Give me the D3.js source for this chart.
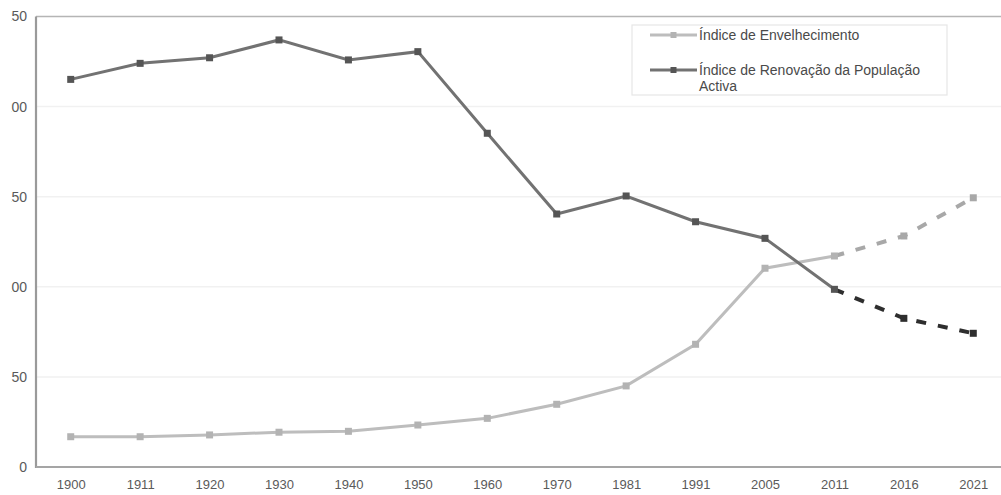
<!DOCTYPE html>
<html><head><meta charset="utf-8">
<script src="https://cdn.jsdelivr.net/npm/d3@7"></script>
<style>body{margin:0;background:#fff}svg{display:block}</style>
</head><body>
<svg id="c" width="1001" height="495"></svg>
<script>
const categories = ["1900","1911","1920","1930","1940","1950","1960","1970","1981","1991","2005","2011","2016","2021"];
const envelhecimento = [16.8,16.8,17.8,19.3,19.8,23.3,27.0,34.8,45.0,68.1,110.3,117.1,128.2,149.4];
const renovacao = [215.1,224.0,227.1,237.0,225.9,230.5,185.2,140.4,150.4,136.1,126.9,98.6,82.5,74.2];
const yTicks = [0,50,100,150,200,250];
const seriesNames = ["Índice de Envelhecimento","Índice de Renovação da População Activa"];
const projectionStart = "2011";

(function(){
const W=1001,H=495;
const svg=d3.select("#c");
const mLeft=36, mTop=16.5, mBottom=467, rightEnd=1008;
const x=d3.scalePoint().domain(categories).range([mLeft,rightEnd]).padding(0.5);
const y=d3.scaleLinear().domain([0,250]).range([mBottom,mTop]);

// gridlines
svg.append("g").selectAll("line").data(yTicks.filter(d=>d>0&&d<250)).join("line")
  .attr("x1",mLeft).attr("x2",W).attr("y1",d=>y(d)).attr("y2",d=>y(d))
  .attr("stroke","#f1f1f1").attr("stroke-width",1.5);

// top border
svg.append("line").attr("x1",mLeft).attr("x2",W).attr("y1",y(250)).attr("y2",y(250))
  .attr("stroke","#b5b5b5").attr("stroke-width",1.5);

// axes
const clip=svg.append("defs").append("clipPath").attr("id","yclip");
clip.append("rect").attr("x",-25).attr("y",0).attr("width",40).attr("height",H);
const yAxis=svg.append("g").attr("transform",`translate(${mLeft},0)`).attr("clip-path","url(#yclip)")
  .call(d3.axisLeft(y).tickValues(yTicks).tickSize(0).tickPadding(9).tickFormat(d3.format("d")));
yAxis.select(".domain").remove();
yAxis.selectAll("text").attr("font-family","Liberation Sans, Arial, sans-serif").attr("font-size",14).attr("fill","#5a5a5a");

const xAxis=svg.append("g").attr("transform",`translate(0,${mBottom})`)
  .call(d3.axisBottom(x).tickSize(0).tickPadding(13));
xAxis.select(".domain").remove();
xAxis.selectAll("text").attr("font-family","Liberation Sans, Arial, sans-serif").attr("font-size",13).attr("fill","#5a5a5a");

svg.append("line").attr("x1",mLeft).attr("x2",mLeft).attr("y1",y(250)).attr("y2",mBottom+1)
  .attr("stroke","#9a9a9a").attr("stroke-width",2.2);
svg.append("line").attr("x1",mLeft).attr("x2",W).attr("y1",mBottom).attr("y2",mBottom)
  .attr("stroke","#a5a5a5").attr("stroke-width",2);

const line=d3.line().x(d=>x(d.c)).y(d=>y(d.v));
const splitIdx=categories.indexOf(projectionStart);
function drawSeries(vals,color,dashColor,mColor,dash){
  const pts=categories.map((c,i)=>({c,v:vals[i]}));
  svg.append("path").datum(pts.slice(0,splitIdx+1)).attr("d",line)
    .attr("fill","none").attr("stroke",color).attr("stroke-width",3);
  svg.append("path").datum(pts.slice(splitIdx)).attr("d",line)
    .attr("fill","none").attr("stroke",dashColor).attr("stroke-width",4).attr("stroke-dasharray",dash);
  svg.append("g").selectAll("rect").data(pts).join("rect")
    .attr("x",d=>x(d.c)-3.5).attr("y",d=>y(d.v)-3.5).attr("width",7).attr("height",7)
    .attr("fill",(d,i)=>i>splitIdx?dashColor:mColor);
}
drawSeries(envelhecimento,"#bdbdbd","#a8a8a8","#b3b3b3","10,12");
drawSeries(renovacao,"#727272","#2e2e2e","#555","10,12");

// legend
const lg=svg.append("g");
lg.append("rect").attr("x",632).attr("y",25).attr("width",315).attr("height",70)
  .attr("fill","#fff").attr("stroke","#e6e6e6").attr("stroke-width",1.2);
const legItems=[{c:"#bdbdbd",m:"#b3b3b3",y:35},{c:"#727272",m:"#555",y:70}];
legItems.forEach(it=>{
  lg.append("line").attr("x1",650).attr("x2",697).attr("y1",it.y).attr("y2",it.y).attr("stroke",it.c).attr("stroke-width",3);
  lg.append("rect").attr("x",673.5-3).attr("y",it.y-3).attr("width",6).attr("height",6).attr("fill",it.m);
});
lg.append("text").attr("x",699).attr("y",40).text(seriesNames[0]);
const t2=lg.append("text").attr("x",699).attr("y",75);
t2.append("tspan").attr("x",699).text("Índice de Renovação da População");
t2.append("tspan").attr("x",699).attr("dy",16).text("Activa");
lg.selectAll("text").attr("font-family","Liberation Sans, Arial, sans-serif").attr("font-size",14).attr("fill","#4a4a4a");
})();
</script>
</body></html>
